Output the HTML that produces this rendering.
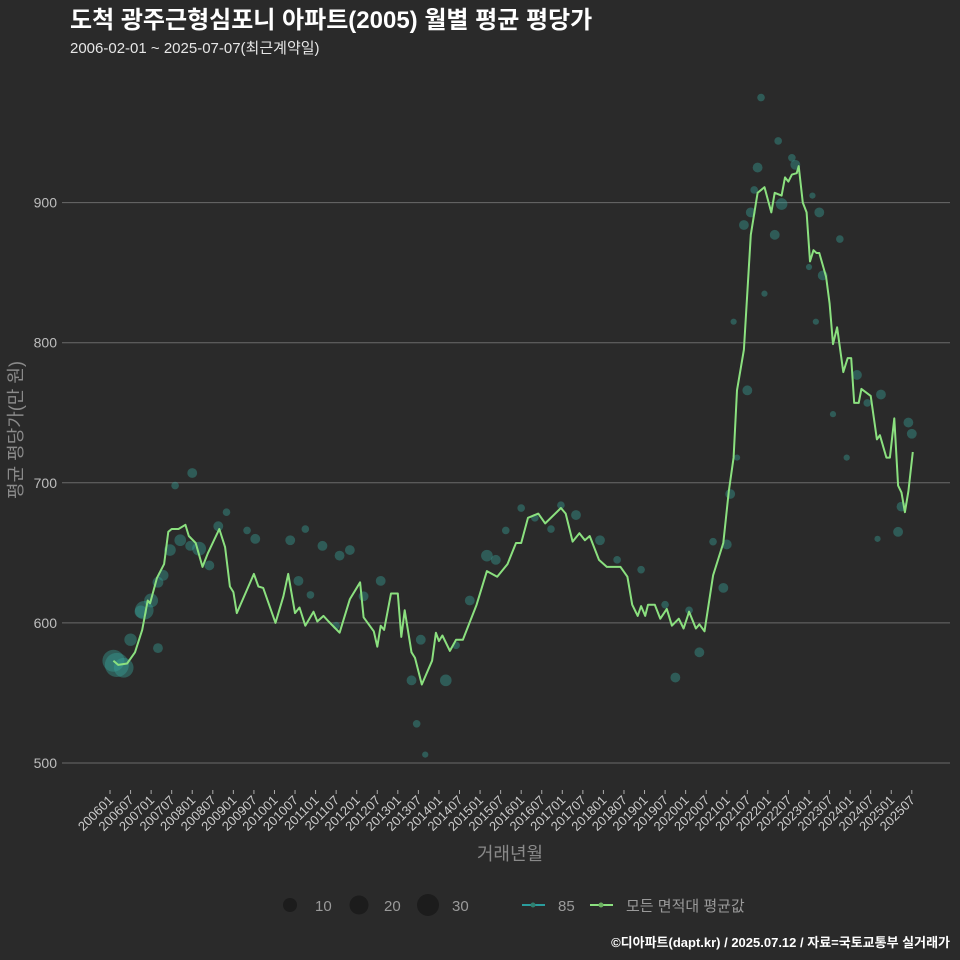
<!DOCTYPE html>
<html><head><meta charset="utf-8">
<style>
html,body{margin:0;padding:0;background:#2a2a2a;}
svg{display:block;font-family:"Liberation Sans","Noto Sans CJK KR",sans-serif;}
</style></head>
<body>
<svg id="chart" width="960" height="960" viewBox="0 0 960 960">
<rect x="0" y="0" width="960" height="960" fill="#2a2a2a"/>
<text x="70" y="28" fill="#ffffff" font-size="24" font-weight="bold">도척 광주근형심포니 아파트(2005) 월별 평균 평당가</text>
<text x="70" y="53" fill="#e6e6e6" font-size="15">2006-02-01 ~ 2025-07-07(최근계약일)</text>
<g id="grid"></g>
<g id="yticks"></g>
<g id="xticks"></g>
<g id="bubbles"></g>
<g id="line"></g>
<text x="0" y="0" transform="translate(22,430) rotate(-90)" text-anchor="middle" fill="#8a8a8a" font-size="18">평균 평당가(만 원)</text>
<text x="510" y="860" text-anchor="middle" fill="#8a8a8a" font-size="18">거래년월</text>
<g>
  <circle cx="290" cy="905" r="7" fill="#1c1c1c"/>
  <text x="315" y="911" fill="#9a9a9a" font-size="15">10</text>
  <circle cx="359" cy="905" r="9.5" fill="#1c1c1c"/>
  <text x="384" y="911" fill="#9a9a9a" font-size="15">20</text>
  <circle cx="428" cy="905" r="11" fill="#1c1c1c"/>
  <text x="452" y="911" fill="#9a9a9a" font-size="15">30</text>
  <line x1="522" y1="905" x2="545" y2="905" stroke="#2a9d9d" stroke-width="2"/>
  <circle cx="533" cy="905" r="2.5" fill="#2f7f6f"/>
  <text x="558" y="911" fill="#9a9a9a" font-size="15">85</text>
  <line x1="590" y1="905" x2="613" y2="905" stroke="#8be07f" stroke-width="2"/>
  <circle cx="601" cy="905" r="2.5" fill="#6bb060"/>
  <text x="626" y="911" fill="#9a9a9a" font-size="15">모든 면적대 평균값</text>
</g>
<text x="950" y="947" text-anchor="end" fill="#ffffff" font-size="13" font-weight="bold">©디아파트(dapt.kr) / 2025.07.12 / 자료=국토교통부 실거래가</text>
</svg>
<script>
// ---- data ----
const yTicks = [500, 600, 700, 800, 900];
const xTickLabels = [];
for (let yr = 2006; yr <= 2025; yr++) { xTickLabels.push(yr + "01"); xTickLabels.push(yr + "07"); }
// average line: month index since 2006-01, value (만원/평)
const lineMonths = [1,2.4,5,7.3,9.4,11,11.7,13.7,15.8,17,18,20,22,23,25,27,28.6,31.9,33.6,35,36,37,38.6,42,43.3,44.7,48.3,50.6,52,54,55.3,57,59.4,60.5,62.3,63.8,67,70,73,74,77,78,79,80,82,84,85,86,88,89,91,94,95.1,96,97,99.2,101,103,107,110,113,116,118.5,120,122,125,127,131.6,133,135,137,138.6,140,142.7,145,149,151,152.4,154,155,156.2,157,159,160.6,162.5,164,166,167.4,169,171,172,173.5,176,179,180.6,182,183,185,187,189,191,193,194,196,197,198,199,200.4,201,202.2,203.3,204.3,205.3,206.2,207,209,210,211,212.2,214,215.3,216.3,217.2,218.5,219.3,222,223.8,224.7,226.6,227.6,228.9,230,231,232,233,234.3];
const lineValues = [573,570,571,579,595,616,614,632,642,665,667,667,670,662,657,640,650,667,654,626,622,607,616,635,626,625,600,619,635,607,611,598,608,601,605,601,593,617,629,604,594,583,598,595,621,621,590,609,579,575,556,573,593,587,591,580,588,588,613,637,633,642,657,657,675,678,671,682,678,658,664,659,662,645,640,640,633,613,605,612,605,613,613,603,610,598,603,596,608,596,599,594,634,657,694,718,766,795,877,907,911,893,907,905,918,915,920,921,926,900,893,858,866,864,864,847,828,799,811,779,789,789,757,757,767,762,731,734,718,718,746,698,693,679,694,722];
// bubbles (85㎡): month index, value, transaction count
const bubbleMonths = [1,2,4,6,9,10,12,14,15.5,14,17.5,20.5,23.4,24,19,26,29,31.6,34,40,42.4,52.6,55,57,62,67,70,58.5,66,74,79,90.7,88,89.5,92,98,101,105,110,112.6,115.5,120,124,128.7,131.6,136,143,148,155,162,165,169,172,176,179,180,181,183,186,182,185,187,188,189,191,190,194,195,196,199,200,207,213,205,208,204,206,218,225,221,211,215,233,234,230,231,224];
const bubbleValues = [573,570,568,588,608,609,616,629,634,582,652,659,655,707,698,653,641,669,679,666,660,659,630,667,655,648,652,620,598,619,630,588,559,528,506,559,584,616,648,645,666,682,675,667,684,677,659,645,638,613,561,609,579,658,625,656,692,718,766,815,884,893,909,925,835,975,877,944,899,932,927,893,874,905,848,854,815,777,763,757,749,718,743,735,665,683,660];
const bubbleCounts = [25,30,20,8,8,18,10,6,6,5,7,7,5,5,3,10,5,5,3,3,5,5,5,3,5,5,5,3,3,5,5,5,5,3,2,7,3,5,7,5,3,3,3,3,3,5,5,3,3,3,5,3,5,3,5,5,5,2,5,2,5,5,3,5,2,3,5,3,7,3,5,5,3,2,5,2,2,5,5,3,2,2,5,5,5,5,2];

// ---- axes ----
const NS = "http://www.w3.org/2000/svg";
const X0 = 110, PX_PER_MONTH = 3.4265;
const Y500 = 763, PX_PER_UNIT = 1.401;
function xScale(m){ return X0 + m * PX_PER_MONTH; }
function yScale(v){ return Y500 - (v - 500) * PX_PER_UNIT; }
function mk(tag, attrs, parent){ const e = document.createElementNS(NS, tag); for (const k in attrs) e.setAttribute(k, attrs[k]); parent.appendChild(e); return e; }

const grid = document.getElementById('grid');
const yt = document.getElementById('yticks');
yTicks.forEach(v => {
  const l = mk('line', {x1:62, x2:950, y1:yScale(v), y2:yScale(v), stroke:'#6a6a6a', 'stroke-width':1}, grid);
  
  
  const t = mk('text', {x:57, y:yScale(v)+5, 'text-anchor':'end', fill:'#bdbdbd', 'font-size':14}, yt);
  t.textContent = v;
  
  
});
const xt = document.getElementById('xticks');
xTickLabels.forEach((lab, i) => {
  const x = xScale(i * 6);
  const tk = mk('line', {x1:x, x2:x, y1:790, y2:794, stroke:'#aaaaaa', 'stroke-width':1}, xt);
  
  
  const t = mk('text', {x:x+4, y:801, 'text-anchor':'end', fill:'#cccccc', 'font-size':13, transform:'rotate(-45 ' + (x+4) + ' 801)'}, xt);
  t.textContent = lab;
  
  
});

const bg = document.getElementById('bubbles');
bubbleMonths.forEach((m, i) => {
  const c = mk('circle', {cx:xScale(m), cy:yScale(bubbleValues[i]), r:2.2*Math.sqrt(bubbleCounts[i]), fill:'#38a096', 'fill-opacity':0.42}, bg);
  
  
});

const lg = document.getElementById('line');
const pts = lineMonths.map((m, i) => xScale(m).toFixed(1) + ',' + yScale(lineValues[i]).toFixed(1)).join(' ');
const pl = mk('polyline', {points:pts, fill:'none', stroke:'#8be07f', 'stroke-width':2, 'stroke-linejoin':'round'}, lg);


</script>
</body></html>
